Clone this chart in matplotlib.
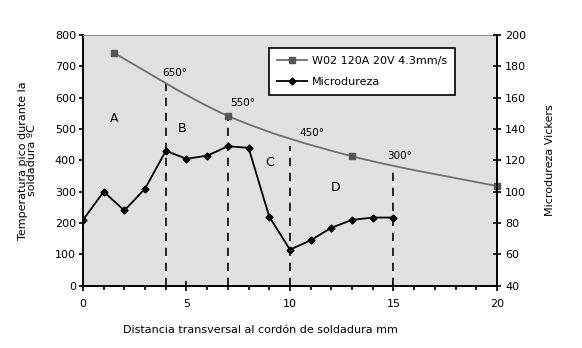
import numpy as np
import matplotlib
matplotlib.use("Agg")
import matplotlib.pyplot as plt
from matplotlib.path import Path
from matplotlib.patches import PathPatch
from matplotlib.lines import Line2D

plt.rcParams['font.family'] = ['DejaVu Sans']
plt.rcParams['font.size'] = 8

# peak temperature (left axis)
temp_x = [1.5, 7, 13, 20]
temp_y = [743, 542, 413, 318]

# Vickers microhardness (right axis)
hard_x = [0, 1, 2, 3, 4, 5, 6, 7, 8, 9, 10, 11, 12, 13, 14, 15]
hard_y = [82, 100, 88, 102, 126, 121, 123, 129, 128, 84, 63, 69, 77, 82, 83.5, 83.5]

# zone boundaries and their peak temperatures
zone_x = [4, 7, 10, 15]
zone_top = [645, 548, 447, 373]
zone_temp_labels = ["650°", "550°", "450°", "300°"]
zone_temp_pos = [(4.45, 680), (7.7, 583), (11.05, 487), (15.3, 413)]
zone_names = ["A", "B", "C", "D"]
zone_name_pos = [(1.5, 535), (4.8, 503), (9.0, 392), (12.2, 312)]

fig = plt.figure(figsize=(5.82, 3.48), dpi=100)
ax = fig.add_axes([0.1426, 0.179, 0.7113, 0.7204])
ax.set_facecolor("#e0e0e0")

# smooth curve through temperature points (Catmull-Rom as cubic Beziers)
pts = np.column_stack([np.array(temp_x, float), np.array(temp_y, float)])
ext = np.vstack([pts[0], pts, pts[-1]])
verts = [tuple(pts[0])]
codes = [Path.MOVETO]
for i in range(len(pts) - 1):
    p0, p1, p2, p3 = ext[i], ext[i + 1], ext[i + 2], ext[i + 3]
    c1 = p1 + (p2 - p0) / 6
    c2 = p2 - (p3 - p1) / 6
    verts += [tuple(c1), tuple(c2), tuple(p2)]
    codes += [Path.CURVE4] * 3
ax.add_patch(PathPatch(Path(verts, codes), fill=False, edgecolor="#707070", lw=1.3, zorder=3))
ax.plot(temp_x, temp_y, ls="none", marker="s", ms=4, color="#555555", zorder=6, clip_on=False)

for x, top in zip(zone_x, zone_top):
    ax.plot([x, x], [0, top], color="white", lw=0.9, zorder=2)
    ax.plot([x, x], [0, top], color="black", ls=(0, (5, 4)), lw=1.2, zorder=2)

for lbl, (x, y) in zip(zone_temp_labels, zone_temp_pos):
    ax.text(x, y, lbl, ha="center", va="center", fontsize=7.5)
for lbl, (x, y) in zip(zone_names, zone_name_pos):
    ax.text(x, y, lbl, ha="center", va="center", fontsize=9)

ax.set_xlim(0, 20)
ax.set_ylim(0, 800)
ax.set_xticks(range(0, 21, 5))
ax.set_xticks(range(0, 21), minor=True)
ax.set_yticks(range(0, 801, 100))
ax.tick_params(axis="x", which="major", direction="inout", length=7, width=1.2, pad=6)
ax.tick_params(axis="x", which="minor", direction="out", length=3, width=1.2)
ax.tick_params(axis="y", direction="out", length=3, width=1.2, pad=2)
ax.spines["top"].set_color("#909090")
ax.spines["top"].set_linewidth(0.8)
ax.spines["right"].set_visible(False)
for s in ("left", "bottom"):
    ax.spines[s].set_linewidth(1.4)
ax.set_xlabel("Distancia transversal al cordón de soldadura mm")
ax.xaxis.set_label_coords(0.428, -0.155)
ax.set_ylabel("Temperatura pico durante la\nsoldadura ºC", linespacing=0.95)
ax.yaxis.set_label_coords(-0.11, 0.5)

ax2 = ax.twinx()
ax2.plot(hard_x, hard_y, color="black", lw=1.3, marker="D", ms=3.5, zorder=5)
ax2.set_ylim(40, 200)
ax2.set_yticks(range(40, 201, 20))
ax2.tick_params(axis="y", direction="inout", length=6, width=1.2, pad=3)
for s in ("top", "left", "bottom"):
    ax2.spines[s].set_visible(False)
ax2.spines["right"].set_linewidth(1.4)
ax2.set_ylabel("Microdureza Vickers")
ax2.yaxis.set_label_coords(1.115, 0.5)

handles = [
    Line2D([], [], color="#707070", lw=1.3, marker="s", ms=4, mfc="#555555", mec="#555555"),
    Line2D([], [], color="black", lw=1.3, marker="D", ms=3.5),
]
leg = ax2.legend(handles, ["W02 120A 20V 4.3mm/s", "Microdureza"], loc="upper right",
                 bbox_to_anchor=(0.899, 0.948), fancybox=False, framealpha=1,
                 edgecolor="black", fontsize=8, handlelength=2.7, borderpad=0.7,
                 labelspacing=1.0, handletextpad=0.5, borderaxespad=0)
leg.get_frame().set_linewidth(1.2)

fig.savefig("out.png", dpi=100)
